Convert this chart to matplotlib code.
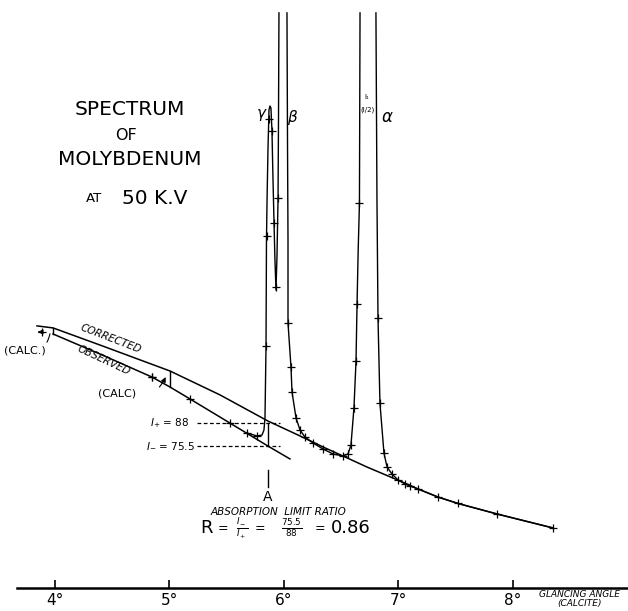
import matplotlib
matplotlib.use("Agg")
import matplotlib.pyplot as plt
import numpy as np

# ---------------- data (glancing angle in degrees, intensity arbitrary units) -------------
tick_deg = [4, 5, 6, 7, 8]
tick_labels = ["4°", "5°", "6°", "7°", "8°"]

# corrected continuum
corr_x = [3.843, 3.983, 4.393, 5.004, 5.441, 5.860, 6.140, 6.341, 6.515, 6.725,
          7.074, 7.170, 7.345, 7.520, 7.860, 8.349]
corr_y = [140.8, 139.7, 130.4, 116.3, 103.3, 89.1, 81.0, 75.0, 70.1, 64.1,
          54.9, 52.2, 47.8, 44.3, 38.6, 31.0]

# observed continuum
obs_x = [3.983, 4.393, 4.847, 5.004, 5.179, 5.528, 5.860, 6.052]
obs_y = [136.4, 125.5, 113.0, 107.6, 101.1, 88.0, 75.5, 68.5]
obs_mx = [4.847, 5.179, 5.528]
obs_my = [113.0, 101.1, 88.0]

# calculated points
calc_x = [3.886, 4.847]
calc_y = [137.5, 113.0]

# measured spectrum: gamma + beta rising side
s1_x = [5.677, 5.764, 5.808, 5.825, 5.834, 5.843, 5.847, 5.852, 5.860, 5.869, 5.878,
        5.886, 5.895, 5.904, 5.913, 5.921, 5.930, 5.939, 5.948, 5.952, 5.956]
s1_y = [82.6, 81.0, 81.5, 84.2, 90.8, 129.9, 187.5, 209.2, 236.4, 258.2, 260.3,
        259.2, 246.7, 220.1, 196.7, 176.6, 160.3, 179.3, 210.3, 252.7, 310.9]
s1_mx = [5.677, 5.764, 5.843, 5.852, 5.869, 5.895, 5.913, 5.930, 5.948]
s1_my = [82.6, 81.0, 129.9, 189.7, 253.3, 246.7, 196.7, 162.0, 210.3]

# beta falling side, valley, alpha rising side
s2_x = [6.026, 6.031, 6.035, 6.035, 6.061, 6.070, 6.105, 6.140, 6.183, 6.253, 6.341,
        6.428, 6.515, 6.559, 6.585, 6.611, 6.629, 6.638, 6.648, 6.659, 6.664]
s2_y = [310.9, 236.4, 187.5, 142.4, 118.5, 104.9, 90.8, 84.2, 80.4, 77.2, 73.9,
        71.2, 70.1, 71.2, 76.1, 96.2, 121.7, 152.7, 182.1, 207.6, 310.9]
s2_mx = [6.035, 6.061, 6.070, 6.105, 6.140, 6.183, 6.253, 6.341, 6.428, 6.515,
         6.559, 6.585, 6.611, 6.629, 6.638, 6.659]
s2_my = [142.4, 118.5, 104.9, 90.8, 84.2, 80.4, 77.2, 73.9, 71.2, 70.1,
         71.2, 76.1, 96.2, 121.7, 152.7, 207.6]

# alpha falling side and tail
s3_x = [6.803, 6.812, 6.821, 6.838, 6.873, 6.900, 6.943, 6.996, 7.057, 7.100, 7.170,
        7.345, 7.520, 7.860, 8.349]
s3_y = [310.9, 209.2, 145.1, 98.9, 71.7, 64.1, 60.3, 57.1, 54.9, 53.8, 52.2,
        47.8, 44.3, 38.6, 31.0]
s3_mx = s3_x[2:]
s3_my = s3_y[2:]

# absorption edge values
edge_x = 5.860
I_plus = 88.0
I_minus = 75.5

# ------------------------------------------------------------------------------
plt.rcParams['font.family'] = ['DejaVu Sans']
fig = plt.figure(figsize=(6.28, 6.11), dpi=100)
ax = fig.add_axes([0, 0, 1, 1])
ax.set_xlim(3.5197, 9.0044)
ax.set_ylim(-14.13, 317.9)

lw = 1.1
mk = dict(marker='+', ls='none', color='black', ms=6, mew=0.9)

ax.plot(corr_x, corr_y, color='black', lw=lw)
ax.plot(obs_x, obs_y, color='black', lw=lw)
ax.plot(obs_mx, obs_my, **mk)

ax.plot(s1_x, s1_y, color='black', lw=1.0)
ax.plot(s2_x, s2_y, color='black', lw=1.0)
ax.plot(s3_x, s3_y, color='black', lw=1.0)
ax.plot(s1_mx, s1_my, **mk)
ax.plot(s2_mx, s2_my, **mk)
ax.plot(s3_mx, s3_my, **mk)
ax.plot(calc_x, calc_y, **mk)

# verticals between corrected and observed
for xv in [corr_x[1], corr_x[3]]:
    yc = np.interp(xv, corr_x, corr_y)
    yo = np.interp(xv, obs_x, obs_y)
    ax.plot([xv, xv], [yo, yc], color='black', lw=1.0)
ax.plot([edge_x, edge_x], [I_minus, I_plus], color='black', lw=1.0)

# dashed levels
ax.plot([5.24, 5.965], [I_plus, I_plus], color='black', lw=0.9, ls=(0, (3, 2)))
ax.plot([5.24, 5.965], [I_minus, I_minus], color='black', lw=0.9, ls=(0, (3, 2)))
ax.text(5.004, I_plus, r"$I_{+}$ = 88", ha='center', va='center', fontsize=7.5)
ax.text(5.013, I_minus, r"$I_{-}$ = 75.5", ha='center', va='center', fontsize=7.5)

# calc annotations
ax.annotate("", xy=(calc_x[0] - 0.06, calc_y[0]), xytext=(calc_x[0], calc_y[0]),
            arrowprops=dict(arrowstyle='-|>', color='black', lw=0.8, mutation_scale=7))
ax.annotate("(CALC.)", xy=(calc_x[0] + 0.07, calc_y[0] - 1), xytext=(3.738, 127.7),
            ha='center', va='center', fontsize=8,
            arrowprops=dict(arrowstyle='-', color='black', lw=0.8,
                            connectionstyle='arc3,rad=0.5', shrinkA=14, shrinkB=0))
ax.annotate("(CALC)", xy=(calc_x[1] + 0.12, calc_y[1]), xytext=(4.541, 104.3),
            ha='center', va='center', fontsize=8,
            arrowprops=dict(arrowstyle='-|>', color='black', lw=0.8, mutation_scale=7,
                            connectionstyle='arc3,rad=0.5', shrinkA=17, shrinkB=0))

ax.text(4.489, 133.7, "CORRECTED", rotation=-21, ha='center', va='center',
        fontsize=7.5, style='italic')
ax.text(4.428, 122.3, "OBSERVED", rotation=-25, ha='center', va='center',
        fontsize=7.5, style='italic')

# title block
ax.text(4.651, 258.2, "SPECTRUM", ha='center', va='center', fontsize=14.5)
ax.text(4.620, 244.0, "OF", ha='center', va='center', fontsize=11.5)
ax.text(4.655, 231.0, "MOLYBDENUM", ha='center', va='center', fontsize=14.5)
ax.text(4.341, 210.3, "AT", ha='center', va='center', fontsize=9.5)
ax.text(4.873, 210.3, "50 K.V", ha='center', va='center', fontsize=14.5)

# peak labels
ax.text(5.808, 255.4, r"$\gamma$", ha='center', va='center', fontsize=11)
ax.text(6.079, 254.3, r"$\beta$", ha='center', va='center', fontsize=11)
ax.text(6.900, 254.3, r"$\alpha$", ha='center', va='center', fontsize=12)
ax.text(6.725, 265.2, "I₁", ha='center', va='center', fontsize=5)
ax.text(6.725, 258.2, "(I/2)", ha='center', va='center', fontsize=5)

# absorption edge label and ratio
ax.plot([edge_x, edge_x], [53.3, 62.5], color='black', lw=1.0)
ax.text(edge_x, 47.8, "A", ha='center', va='center', fontsize=10)
ax.text(5.948, 39.6, "ABSORPTION  LIMIT RATIO", ha='center', va='center',
        fontsize=7.5, style='italic')
yr = 30.8
ax.text(5.319, yr, "R", ha='center', va='center', fontsize=13)
ax.text(5.467, yr, "=", ha='center', va='center', fontsize=9)
ax.text(5.633, yr, r"$\frac{I_-}{I_+}$", ha='center', va='center', fontsize=9)
ax.text(5.790, yr, "=", ha='center', va='center', fontsize=9)
ax.text(6.070, yr, r"$\frac{75.5}{88}$", ha='center', va='center', fontsize=9)
ax.text(6.314, yr, "=", ha='center', va='center', fontsize=9)
ax.text(6.585, yr, "0.86", ha='center', va='center', fontsize=13)

# axis
for s in ['top', 'left', 'right']:
    ax.spines[s].set_visible(False)
ax.spines['bottom'].set_position(('data', -1.63))
ax.spines['bottom'].set_bounds(3.668, 9.0044)
ax.spines['bottom'].set_linewidth(1.8)
ax.set_xticks(tick_deg, labels=tick_labels)
ax.set_yticks([])
ax.tick_params(axis='x', direction='in', length=6, width=1.2, pad=3.5, labelsize=11)
ax.text(8.585, -5.4, "GLANCING ANGLE", ha='center', va='center', fontsize=6.5, style='italic')
ax.text(8.585, -9.8, "(CALCITE)", ha='center', va='center', fontsize=6.5, style='italic')

fig.savefig("out.png", dpi=100)
